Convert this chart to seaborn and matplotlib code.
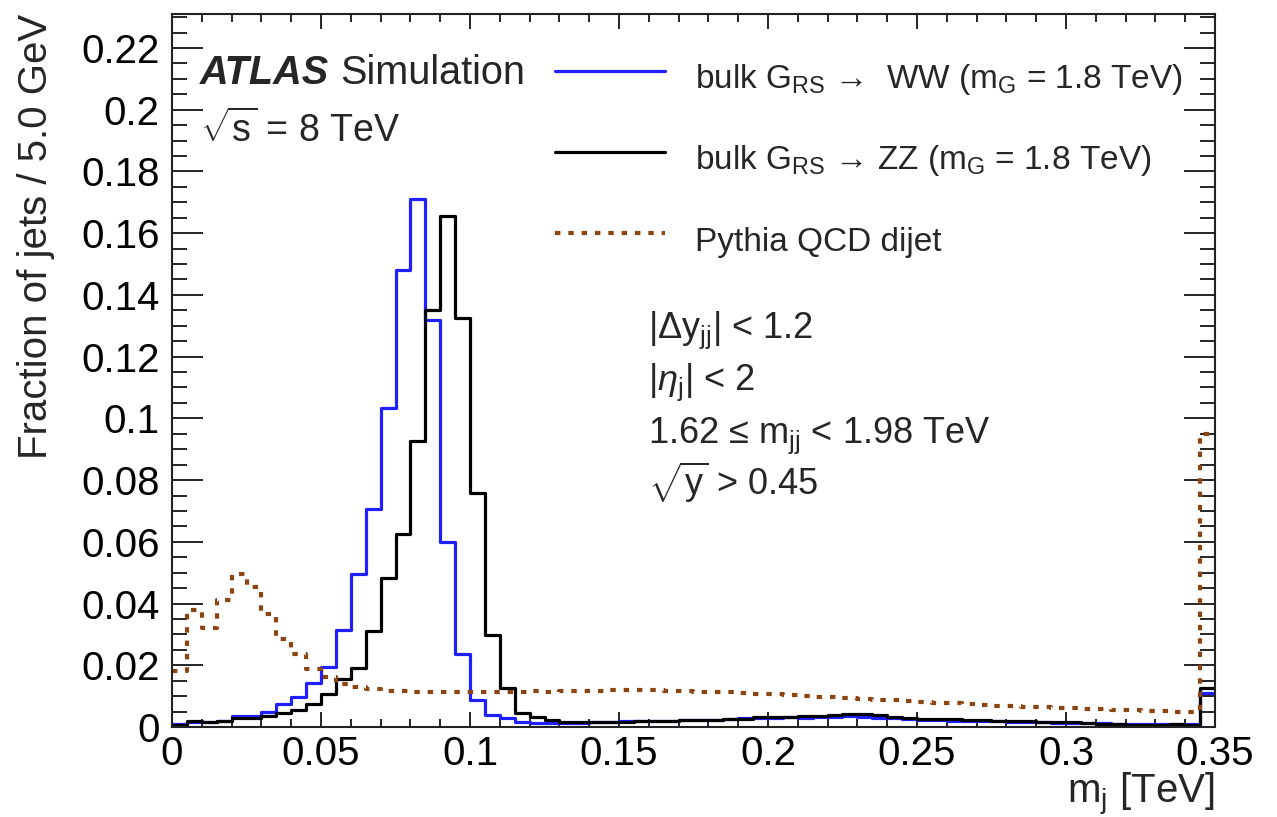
import numpy as np
import pandas as pd
import matplotlib
matplotlib.use("Agg")
import matplotlib.pyplot as plt
import seaborn as sns

# ---------------- data ----------------
bin_width = 0.005          # 5 GeV bins, in TeV
x_range = (0.0, 0.35)

ww_frac = [0.0011, 0.0016, 0.0017, 0.0018, 0.0036, 0.0037, 0.0048, 0.0075, 0.0097, 0.0142,
           0.0194, 0.0313, 0.0495, 0.0707, 0.1034, 0.1480, 0.1710, 0.1320, 0.0598, 0.0236,
           0.0086, 0.0040, 0.0029, 0.0017, 0.0012, 0.0013, 0.0012, 0.0014, 0.0016, 0.0015,
           0.0018, 0.0020, 0.0019, 0.0021, 0.0022, 0.0024, 0.0023, 0.0026, 0.0028, 0.0030,
           0.0029, 0.0031, 0.0030, 0.0033, 0.0034, 0.0036, 0.0033, 0.0030, 0.0028, 0.0026,
           0.0024, 0.0023, 0.0021, 0.0020, 0.0019, 0.0018, 0.0017, 0.0016, 0.0015, 0.0014,
           0.0013, 0.0013, 0.0012, 0.0011, 0.0011, 0.0010, 0.0010, 0.0011, 0.0010, 0.0110]

zz_frac = [0.0006, 0.0018, 0.0016, 0.0020, 0.0028, 0.0030, 0.0036, 0.0045, 0.0056, 0.0075,
           0.0108, 0.0156, 0.0190, 0.0310, 0.0483, 0.0626, 0.0925, 0.1350, 0.1657, 0.1324,
           0.0759, 0.0299, 0.0126, 0.0046, 0.0034, 0.0022, 0.0017, 0.0015, 0.0016, 0.0017,
           0.0016, 0.0019, 0.0021, 0.0020, 0.0022, 0.0023, 0.0022, 0.0025, 0.0027, 0.0031,
           0.0034, 0.0033, 0.0035, 0.0037, 0.0039, 0.0041, 0.0043, 0.0040, 0.0032, 0.0029,
           0.0027, 0.0026, 0.0025, 0.0024, 0.0022, 0.0020, 0.0019, 0.0018, 0.0017, 0.0016,
           0.0015, 0.0012, 0.0010, 0.0009, 0.0008, 0.0008, 0.0008, 0.0009, 0.0008, 0.0125]

qcd_frac = [0.0180, 0.0380, 0.0320, 0.0410, 0.0497, 0.0453, 0.0365, 0.0286, 0.0237, 0.0189,
            0.0161, 0.0140, 0.0129, 0.0122, 0.0118, 0.0116, 0.0115, 0.0114, 0.0113, 0.0114,
            0.0113, 0.0115, 0.0114, 0.0115, 0.0116, 0.0115, 0.0116, 0.0117, 0.0118, 0.0119,
            0.0120, 0.0120, 0.0119, 0.0118, 0.0117, 0.0115, 0.0113, 0.0112, 0.0110, 0.0108,
            0.0106, 0.0103, 0.0101, 0.0098, 0.0096, 0.0093, 0.0090, 0.0088, 0.0086, 0.0083,
            0.0080, 0.0078, 0.0077, 0.0074, 0.0071, 0.0069, 0.0067, 0.0065, 0.0064, 0.0062,
            0.0060, 0.0059, 0.0057, 0.0055, 0.0054, 0.0052, 0.0051, 0.0050, 0.0049, 0.0950]

series_labels = [r"bulk G$_{\rm RS}$ →  WW (m$_{\rm G}$ = 1.8 TeV)",
                 r"bulk G$_{\rm RS}$ → ZZ (m$_{\rm G}$ = 1.8 TeV)",
                 "Pythia QCD dijet"]

x_ticks = [0, 0.05, 0.1, 0.15, 0.2, 0.25, 0.3, 0.35]
x_ticklabels = ["0", "0.05", "0.1", "0.15", "0.2", "0.25", "0.3", "0.35"]
y_ticks = [0, 0.02, 0.04, 0.06, 0.08, 0.1, 0.12, 0.14, 0.16, 0.18, 0.2, 0.22]
y_ticklabels = ["0", "0.02", "0.04", "0.06", "0.08", "0.1", "0.12", "0.14", "0.16",
                "0.18", "0.2", "0.22"]

cut_lines = [r"|$\Delta$y$_{\rm jj}$| < 1.2",
             r"|$\eta_{\rm j}$| < 2",
             r"1.62 ≤ m$_{\rm jj}$ < 1.98 TeV",
             r"$\sqrt{\rm y}$ > 0.45"]

# ---------------- style ----------------
sns.set_theme(style="ticks")
plt.rcParams["font.family"] = ["Liberation Sans", "DejaVu Sans"]
plt.rcParams["mathtext.fontset"] = "custom"
plt.rcParams["mathtext.rm"] = "Liberation Sans"
plt.rcParams["mathtext.it"] = "Liberation Sans:italic"
plt.rcParams["mathtext.bf"] = "Liberation Sans:bold"
plt.rcParams["mathtext.sf"] = "Liberation Sans"

fig = plt.figure(figsize=(12.77, 8.17), dpi=100)
ax = fig.add_axes([172 / 1277, 1 - 727 / 817, (1215 - 172) / 1277, (727 - 14) / 817])

n_bins = len(ww_frac)
centers = x_range[0] + bin_width * (np.arange(n_bins) + 0.5)
df = pd.DataFrame({"m": centers, "ww": ww_frac, "zz": zz_frac, "qcd": qcd_frac})

common = dict(data=df, x="m", binwidth=bin_width, binrange=x_range, element="step",
              fill=False, ax=ax)
sns.histplot(weights="ww", color="#2020ff", linewidth=2.3, **common)
sns.histplot(weights="zz", color="black", linewidth=2.3, **common)
sns.histplot(weights="qcd", color="#8B4513", linewidth=3.0, linestyle=(0, (1.3, 1.9)),
             **common)

ax.set_xlim(*x_range)
ax.set_ylim(0, 0.231)

ax.set_xticks(x_ticks)
ax.set_xticklabels(x_ticklabels)
ax.set_yticks(y_ticks)
ax.set_yticklabels(y_ticklabels)
ax.set_xticks(np.arange(0, 0.3501, 0.01), minor=True)
ax.set_yticks(np.arange(0, 0.2301, 0.005), minor=True)
ax.tick_params(axis="both", which="both", direction="in", top=True, right=True,
               labelsize=29, colors="black", width=1.2)
ax.tick_params(axis="y", which="major", length=22, pad=9)
ax.tick_params(axis="y", which="minor", length=11)
ax.tick_params(axis="x", which="major", length=11, pad=5.5)
ax.tick_params(axis="x", which="minor", length=5.5)
for s in ax.spines.values():
    s.set_linewidth(1.5)
    s.set_color("#222222")

ax.set_ylabel("Fraction of jets / 5.0 GeV", fontsize=29, loc="top")
ax.yaxis.set_label_coords(-0.112, 1.0)
ax.set_xlabel(r"m$_{\rm j}$ [TeV]", fontsize=29, loc="right")
ax.xaxis.set_label_coords(1.0, -0.062)

# ATLAS label
ax.text(0.0268, 0.902, "ATLAS", transform=ax.transAxes, fontsize=28.5,
        fontweight="bold", fontstyle="italic", va="baseline", ha="left")
ax.text(0.161, 0.902, "Simulation", transform=ax.transAxes, fontsize=28.5,
        va="baseline", ha="left")
ax.text(0.0268, 0.8205, r"$\sqrt{\rm s}$ = 8 TeV", transform=ax.transAxes, fontsize=27,
        va="baseline", ha="left")

cut_y = [0.5456, 0.4727, 0.398, 0.325]
for txt, yy in zip(cut_lines, cut_y):
    ax.text(0.4564, yy, txt, transform=ax.transAxes, fontsize=26, va="baseline", ha="left")

handles = ax.lines[:3]
leg = ax.legend(handles, series_labels, loc="upper left",
                bbox_to_anchor=((555 - 172) / 1043, (727 - 54) / 713),
                frameon=False, fontsize=24, handlelength=3.3, handletextpad=0.9,
                handleheight=1.8, labelspacing=1.02, borderpad=0, borderaxespad=0)

fig.savefig("out.png", dpi=100)
